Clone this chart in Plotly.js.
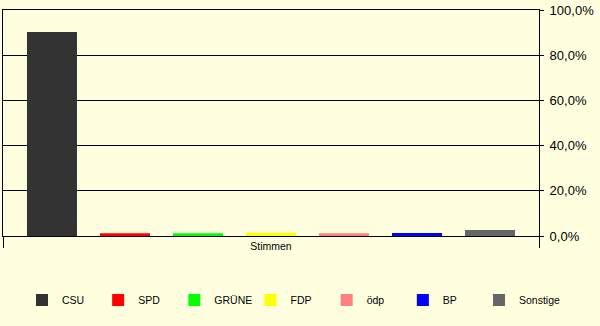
<!DOCTYPE html>
<html>
<head>
<meta charset="utf-8">
<script src="https://cdn.plot.ly/plotly-3.0.1.min.js"></script>
<style>html,body{margin:0;padding:0;background:#FFFFE0;}</style>
</head>
<body>
<div id="chart" style="width:600px;height:326px;"></div>
<script>
var category = ['Stimmen'];
var parties = ['CSU', 'SPD', 'GRÜNE', 'FDP', 'ödp', 'BP', 'Sonstige'];
var shares = [90.3, 1.2, 1.2, 1.4, 1.2, 1.3, 2.6];
var colors = ['#333333', '#FF0000', '#00FF00', '#FFFF00', '#FF8080', '#0000FF', '#666666'];
var yTicks = [0, 20, 40, 60, 80, 100];
var yTickText = yTicks.map(function (v) { return v.toFixed(1).replace('.', ',') + '%'; });

var font = 'Liberation Sans, Arial, sans-serif';

function legendName(i) { return i === 0 ? 'legend' : 'legend' + (i + 1); }

var traces = parties.map(function (p, i) {
  return {
    type: 'bar',
    name: p,
    x: category,
    y: [shares[i]],
    legend: legendName(i),
    marker: {color: colors[i], line: {width: 0}},
    hoverinfo: 'name+y'
  };
});

var layout = {
  width: 600,
  height: 326,
  margin: {l: 3, r: 61, t: 10, b: 90, pad: 0},
  paper_bgcolor: '#FFFFE0',
  plot_bgcolor: '#FFFFE0',
  barmode: 'group',
  bargap: 0.0466,
  bargroupgap: 0.315,
  showlegend: true,
  xaxis: {
    type: 'category',
    range: [-0.5, 0.5],
    showgrid: false,
    zeroline: false,
    showline: true,
    linecolor: '#000000',
    linewidth: 1,
    mirror: true,
    ticks: 'outside',
    tickson: 'boundaries',
    ticklen: 11,
    tickwidth: 1,
    tickcolor: '#000000',
    ticklabelstandoff: 0,
    tickfont: {family: font, size: 10.5, color: '#000000'}
  },
  yaxis: {
    side: 'right',
    range: [0, 100],
    tickmode: 'array',
    tickvals: yTicks,
    ticktext: yTickText,
    showgrid: true,
    gridcolor: '#000000',
    gridwidth: 1,
    zeroline: false,
    showline: true,
    linecolor: '#000000',
    linewidth: 1,
    mirror: true,
    ticks: 'outside',
    ticklen: 4,
    tickwidth: 1,
    tickcolor: '#000000',
    ticklabelstandoff: 3,
    tickfont: {family: font, size: 13, color: '#000000'}
  }
};

// one single-entry legend per party, laid out in a row
var legendStart = 22, legendStep = 76.17, legendCenterY = 300;
parties.forEach(function (p, i) {
  layout[legendName(i)] = {
    orientation: 'h',
    xref: 'container',
    yref: 'container',
    x: (legendStart + i * legendStep) / 600,
    xanchor: 'left',
    y: 1 - legendCenterY / 326,
    yanchor: 'middle',
    bgcolor: 'rgba(0,0,0,0)',
    borderwidth: 0,
    font: {family: font, size: 10.5, color: '#000000'}
  };
});

Plotly.newPlot('chart', traces, layout, {displayModeBar: false, staticPlot: true});
</script>
</body>
</html>
